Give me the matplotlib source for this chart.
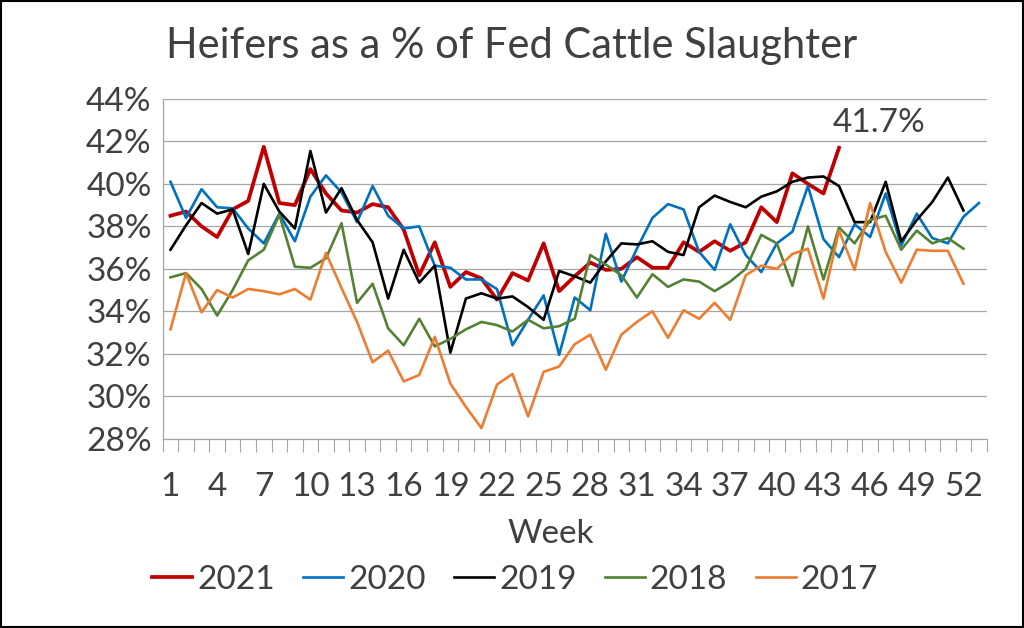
import numpy as np
import matplotlib.pyplot as plt
from matplotlib.patches import Rectangle
from matplotlib.ticker import FuncFormatter

plt.rcParams['font.family'] = ['Lato', 'DejaVu Sans']

# heifer share of fed cattle slaughter, % by week
y2021 = [38.5, 38.7, 38.0, 37.5, 38.8, 39.2, 41.75, 39.1, 39.0, 40.7,
         39.55, 38.75, 38.65, 39.05, 38.9, 37.85, 35.7, 37.25, 35.15, 35.85,
         35.55, 34.55, 35.8, 35.45, 37.2, 34.95, 35.65, 36.3, 35.95, 36.0,
         36.55, 36.05, 36.05, 37.25, 36.8, 37.3, 36.85, 37.25, 38.9, 38.2,
         40.5, 40.0, 39.55, 41.7]
y2020 = [40.1, 38.4, 39.75, 38.9, 38.85, 37.9, 37.2, 38.6, 37.3, 39.4,
         40.4, 39.6, 38.2, 39.9, 38.5, 37.9, 38.0, 36.15, 36.05, 35.5,
         35.5, 35.05, 32.4, 33.6, 34.75, 31.95, 34.65, 34.05, 37.65, 35.4,
         36.95, 38.4, 39.05, 38.8, 36.8, 35.95, 38.1, 36.65, 35.85, 37.2,
         37.75, 39.9, 37.4, 36.55, 38.1, 37.5, 39.55, 37.1, 38.6, 37.45,
         37.2, 38.45, 39.1]
y2019 = [36.9, 38.05, 39.1, 38.6, 38.8, 36.7, 40.0, 38.7, 37.9, 41.55,
         38.65, 39.8, 38.3, 37.25, 34.6, 36.9, 35.35, 36.15, 32.05, 34.6,
         34.85, 34.6, 34.7, 34.2, 33.6, 35.9, 35.65, 35.35, 36.35, 37.2,
         37.15, 37.3, 36.8, 36.65, 38.9, 39.45, 39.15, 38.9, 39.4, 39.65,
         40.1, 40.3, 40.35, 39.9, 38.2, 38.2, 40.1, 37.3, 38.3, 39.15,
         40.3, 38.75]
y2018 = [35.6, 35.8, 35.05, 33.8, 35.0, 36.4, 36.9, 38.55, 36.1, 36.05,
         36.5, 38.15, 34.4, 35.3, 33.2, 32.4, 33.65, 32.35, 32.7, 33.15,
         33.5, 33.35, 33.05, 33.6, 33.2, 33.3, 33.65, 36.65, 36.2, 35.7,
         34.65, 35.75, 35.15, 35.5, 35.4, 34.95, 35.4, 36.0, 37.6, 37.2,
         35.2, 38.0, 35.5, 37.95, 37.2, 38.3, 38.5, 36.9, 37.8, 37.2,
         37.45, 36.95]
y2017 = [33.15, 35.8, 33.95, 35.0, 34.65, 35.05, 34.95, 34.8, 35.05, 34.55,
         36.75, 35.1, 33.5, 31.6, 32.15, 30.7, 31.0, 32.8, 30.6, 29.5,
         28.5, 30.55, 31.05, 29.05, 31.15, 31.4, 32.45, 32.9, 31.25, 32.9,
         33.5, 34.0, 32.75, 34.05, 33.65, 34.4, 33.6, 35.7, 36.15, 36.0,
         36.7, 36.95, 34.6, 37.8, 35.95, 39.1, 36.8, 35.35, 36.9, 36.85,
         36.85, 35.3]

series = [("2021", y2021, "#C00000", 2.7),
          ("2020", y2020, "#0070C0", 1.9),
          ("2019", y2019, "#000000", 1.9),
          ("2018", y2018, "#548235", 1.9),
          ("2017", y2017, "#ED7D31", 1.9)]

txt = "#404040"
grid = "#A6A6A6"

fig = plt.figure(figsize=(10.24, 6.28), dpi=100)
ax = fig.add_axes([0.1589, 0.3014, 0.8047, 0.5410])

for name, vals, col, lw in series:
    weeks = np.arange(1, len(vals) + 1)
    ax.plot(weeks, vals, color=col, lw=lw, label=name, zorder=3)

last = len(y2021)
ax.annotate("%.1f%%" % y2021[-1], xy=(last, y2021[-1]), xytext=(40, 25),
            textcoords="offset pixels", ha="center", va="center",
            fontsize=24, color=txt)

ax.set_xlim(0.5, 53.5)
ax.set_ylim(28, 44)
ax.set_yticks(np.arange(28, 45, 2))
ax.yaxis.set_major_formatter(FuncFormatter(lambda v, p: "%d%%" % v))
ax.set_xticks(np.arange(1, 53, 3))
ax.set_xticks(np.arange(0.5, 54, 1), minor=True)
ax.tick_params(axis="x", which="major", length=0, pad=24, labelsize=24, labelcolor=txt)
ax.tick_params(axis="x", which="minor", length=9, width=0.8, color=grid)
ax.tick_params(axis="y", length=0, pad=8, labelsize=24, labelcolor=txt)
ax.grid(axis="y", color=grid, lw=0.9)
ax.set_axisbelow(True)
for s in ["top", "right"]:
    ax.spines[s].set_visible(False)
for s in ["left", "bottom"]:
    ax.spines[s].set_color(grid)
    ax.spines[s].set_linewidth(0.9)

ax.set_xlabel("Week", fontsize=24, color=txt)
ax.xaxis.set_label_coords(0.471, -0.235)

fig.suptitle("Heifers as a % of Fed Cattle Slaughter", x=0.5, y=0.926,
             va="center", fontsize=30, color=txt)

fig.legend(loc="center", bbox_to_anchor=(0.503, 1 - 580 / 628), ncol=5,
           frameon=False, fontsize=24, labelcolor=txt, handlelength=1.2,
           handletextpad=0.15, columnspacing=0.85)

fig.add_artist(Rectangle((0.001, 0.0015), 0.998, 0.997, transform=fig.transFigure,
                         fill=False, edgecolor="black", lw=1.5))

fig.savefig("out.png", dpi=100)
